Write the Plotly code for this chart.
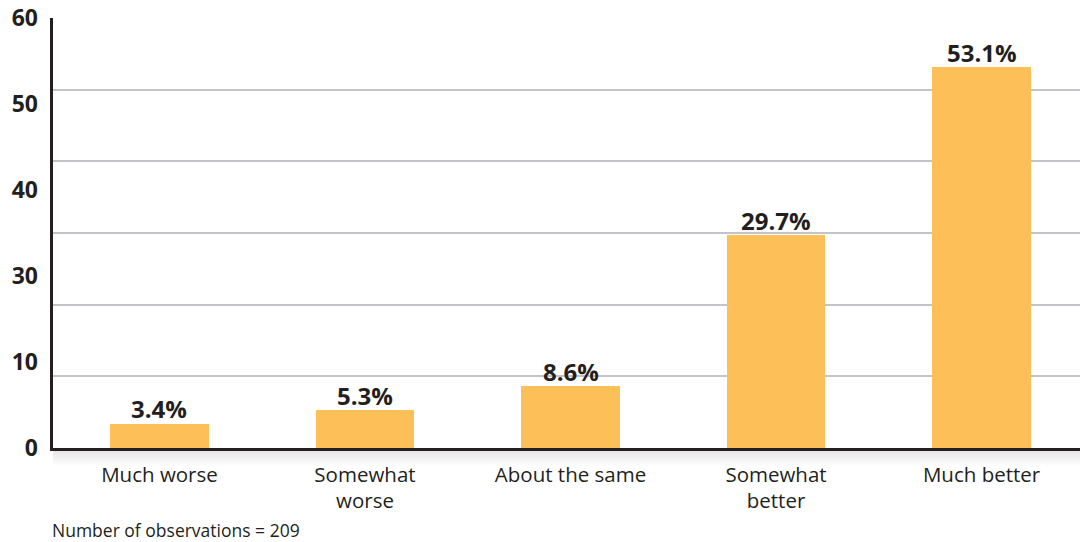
import numpy as np
import plotly.graph_objects as go

categories = ["Much worse", "Somewhat<br>worse", "About the same", "Somewhat<br>better", "Much better"]
values = [3.4, 5.3, 8.6, 29.7, 53.1]
ytick_labels = ["60", "50", "40", "30", "10", "0"]
footnote = "Number of observations = 209"

BAR = "#FDBF57"
INK = "#231F20"
GRID = "#C4C4C8"

x = list(range(len(categories)))
fig = go.Figure()
fig.add_trace(go.Bar(
    x=x, y=values, width=0.48, marker=dict(color=BAR, line=dict(width=0)),
    hoverinfo="skip", yaxis="y",
))
fig.add_trace(go.Scatter(x=[0], y=[0], yaxis="y2", mode="markers",
                         marker=dict(opacity=0), hoverinfo="skip", showlegend=False))

label_pos = list(np.linspace(60, 0, len(ytick_labels)))

H = 430.0
annotations = []
for xi, v in zip(x, values):
    annotations.append(dict(
        x=xi, y=v, xref="x", yref="y", text=f"{v:.1f}%", showarrow=False,
        yanchor="middle", yshift=15,
        font=dict(family="Open Sans", size=24, color=INK, weight="bold"),
    ))
annotations.append(dict(
    text=footnote, xref="paper", yref="paper", x=0, y=-82 / H,
    xanchor="left", yanchor="middle", showarrow=False, xshift=-3,
    font=dict(family="Open Sans", size=17.5, color=INK),
))

# soft shadow under the baseline
shapes = []
for i in range(8):
    y0 = -(1.5 + i * 2) / H
    y1 = -(3.5 + i * 2) / H
    shapes.append(dict(type="rect", xref="paper", yref="paper", x0=0, x1=1,
                       y0=y0, y1=y1, line=dict(width=0),
                       fillcolor=f"rgba(0,0,0,{0.10 * (1 - i / 8):.3f})", layer="below"))

fig.update_layout(
    width=1080, height=542,
    margin=dict(l=53, r=0, t=18, b=94, autoexpand=False),
    paper_bgcolor="white", plot_bgcolor="white",
    showlegend=False, bargap=0,
    font=dict(family="Open Sans", color=INK),
    shapes=shapes,
    annotations=annotations,
    xaxis=dict(
        range=[-0.518, 4.479], tickvals=x, ticktext=categories,
        tickfont=dict(family="Open Sans", size=20.5, color=INK),
        showline=True, linecolor=INK, linewidth=3, ticks="", showgrid=False,
        zeroline=False, automargin=False, ticklabelstandoff=6,
    ),
    yaxis=dict(
        range=[0, 60], dtick=10, showgrid=True, gridcolor=GRID, gridwidth=2,
        showticklabels=False, showline=True, linecolor=INK, linewidth=2.5,
        zeroline=False, ticks="", automargin=False,
    ),
    yaxis2=dict(
        range=[0, 60], overlaying="y", side="left", tickvals=label_pos,
        ticktext=ytick_labels, showgrid=False, zeroline=False, showline=False,
        tickfont=dict(family="Open Sans", size=23, color=INK, weight="bold"),
        ticks="", ticklabelstandoff=14, automargin=False,
    ),
)

fig.write_html("out.html", config={"displayModeBar": False},
               post_script="document.body.style.margin='0px';document.body.style.overflow='hidden';")
